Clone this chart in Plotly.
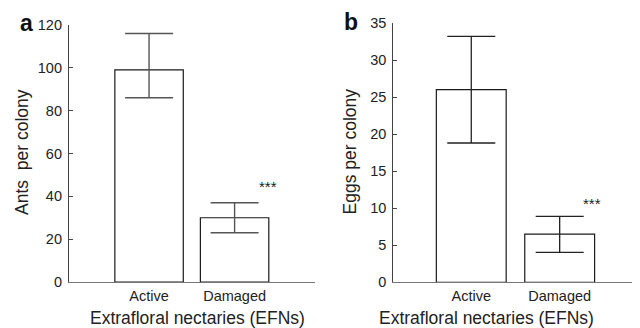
import plotly.graph_objects as go

categories = ["Active", "Damaged"]
ants_mean = [99, 30]
ants_err_plus = [17, 7]
ants_err_minus = [13, 7]
eggs_mean = [26, 6.5]
eggs_err_plus = [7.2, 2.4]
eggs_err_minus = [7.2, 2.45]
ants_ticks = [0, 20, 40, 60, 80, 100, 120]
eggs_ticks = [0, 5, 10, 15, 20, 25, 30, 35]

# page has an 8px body margin; figure starts at (8, 8)
OFF = 8
W, H = 640 - OFF, 328 - OFF
FONT = "Liberation Sans"

def px(x):
    return (x - OFF) / W

def py(y):
    return 1 - (y - OFF) / H

fig = go.Figure()
fig.add_trace(go.Bar(
    x=categories, y=ants_mean, xaxis="x", yaxis="y", width=0.8,
    marker=dict(color="white", line=dict(color="#1a1a1a", width=1.2)),
    error_y=dict(type="data", symmetric=False, array=ants_err_plus,
                 arrayminus=ants_err_minus, color="#555555", thickness=1.4, width=24),
    showlegend=False))
fig.add_trace(go.Bar(
    x=categories, y=eggs_mean, xaxis="x2", yaxis="y2", width=0.79,
    marker=dict(color="white", line=dict(color="#1a1a1a", width=1.2)),
    error_y=dict(type="data", symmetric=False, array=eggs_err_plus,
                 arrayminus=eggs_err_minus, color="#222222", thickness=1.3, width=24),
    showlegend=False))

axis_common = dict(showgrid=False, zeroline=False, showline=True, automargin=False,
                   tickfont=dict(family=FONT, size=14.5, color="#222"))

fig.update_layout(
    template="none",
    width=W, height=H,
    margin=dict(l=0, r=0, t=0, b=0, autoexpand=False),
    paper_bgcolor="white", plot_bgcolor="white",
    xaxis=dict(domain=[px(69), px(315)], range=[-0.936, 1.94], anchor="y",
               linecolor="#777", linewidth=1.2, ticks="", **axis_common),
    yaxis=dict(domain=[py(282), py(25)], range=[0, 120], anchor="x",
               tickvals=ants_ticks, ticks="inside", ticklen=4, tickcolor="#444",
               ticklabelstandoff=3,
               linecolor="#444", linewidth=1.2, **axis_common),
    xaxis2=dict(domain=[px(393.3), px(635)], range=[-0.882, 1.852], anchor="y2",
                linecolor="#777", linewidth=1.2, ticks="", **axis_common),
    yaxis2=dict(domain=[py(282.3), py(23)], range=[0, 35], anchor="x2",
                tickvals=eggs_ticks, ticks="inside", ticklen=4, tickcolor="#444",
                ticklabelstandoff=3,
                linecolor="#444", linewidth=1.2, **axis_common),
)

ann = []
title_font = dict(family=FONT, size=17.5, color="#222")
# x titles
ann.append(dict(text="Extrafloral nectaries (EFNs)", x=px(197.5), y=py(318), xref="paper", yref="paper",
                showarrow=False, font=title_font, xanchor="center", yanchor="middle"))
ann.append(dict(text="Extrafloral nectaries (EFNs)", x=px(486.7), y=py(318), xref="paper", yref="paper",
                showarrow=False, font=title_font, xanchor="center", yanchor="middle"))
# y titles
ann.append(dict(text="Ants\u00a0 per colony", x=px(21.5), y=py(152.5), xref="paper", yref="paper",
                showarrow=False, font=title_font, textangle=-90, xanchor="center", yanchor="middle"))
ann.append(dict(text="Eggs per colony", x=px(349), y=py(151.5), xref="paper", yref="paper",
                showarrow=False, font=title_font, textangle=-90, xanchor="center", yanchor="middle"))
# panel labels
ann.append(dict(text="<b>a</b>", x=px(26.5), y=py(23), xref="paper", yref="paper",
                showarrow=False, font=dict(family=FONT, size=23, color="#111"),
                xanchor="center", yanchor="middle"))
ann.append(dict(text="<b>b</b>", x=px(351), y=py(22), xref="paper", yref="paper",
                showarrow=False, font=dict(family=FONT, size=23, color="#111"),
                xanchor="center", yanchor="middle"))
# significance
ann.append(dict(text="***", x=1.39, y=44.5, xref="x", yref="y", showarrow=False,
                font=dict(family=FONT, size=15, color="#222"), xanchor="center", yanchor="middle"))
ann.append(dict(text="***", x=1.37, y=10.6, xref="x2", yref="y2", showarrow=False,
                font=dict(family=FONT, size=15, color="#222"), xanchor="center", yanchor="middle"))
fig.update_layout(annotations=ann)

fig.write_html("out.html")
